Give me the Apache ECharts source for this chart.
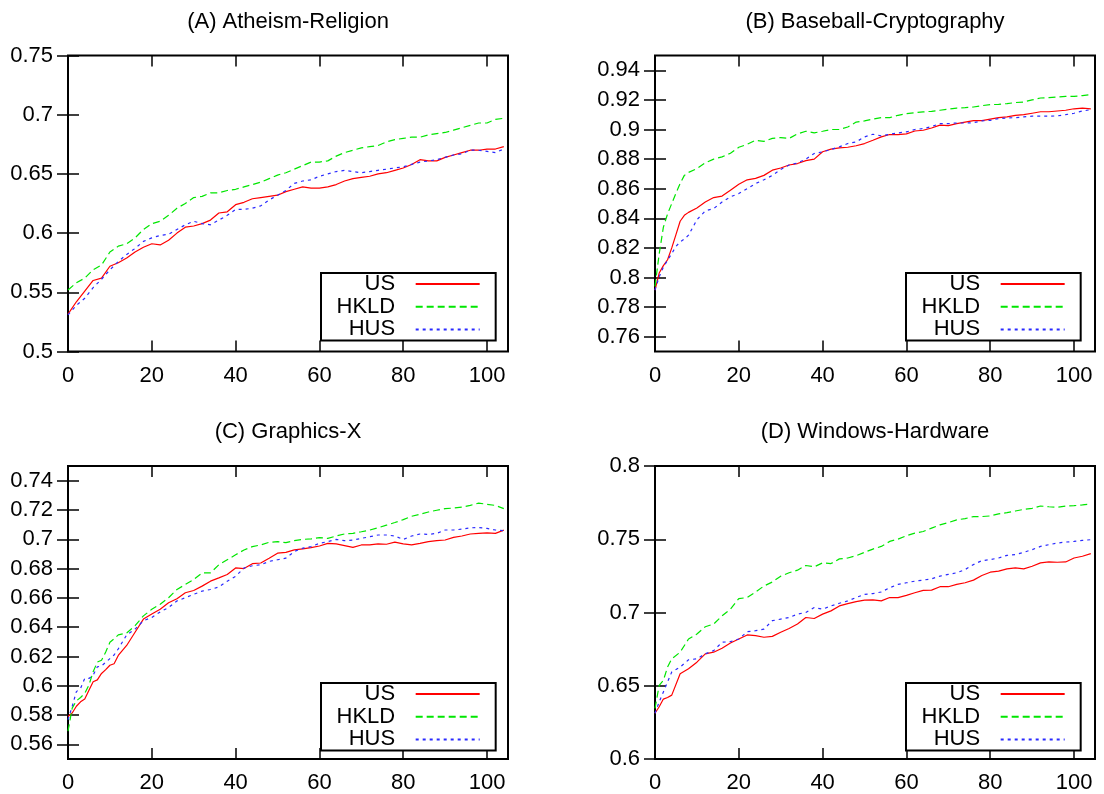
<!DOCTYPE html>
<html><head><meta charset="utf-8">
<script src="https://cdn.jsdelivr.net/npm/echarts@6/dist/echarts.min.js"></script>
<style>html,body{margin:0;padding:0;background:#fff}#c{width:1104px;height:794px}</style>
</head><body><div id="c"></div>
<script>
// ---------- data ----------
const panelTitles = ['(A) Atheism-Religion', '(B) Baseball-Cryptography', '(C) Graphics-X', '(D) Windows-Hardware'];
const seriesNames = ['US', 'HKLD', 'HUS'];
const xTicks = [0, 20, 40, 60, 80, 100];
const xRange = [0, 105];
const yRangeA = [0.5, 0.75];
const yRangeB = [0.75, 0.95];
const yRangeC = [0.55, 0.75];
const yRangeD = [0.6, 0.8];
const yTicksA = [0.5, 0.55, 0.6, 0.65, 0.7, 0.75];
const yTicksB = [0.76, 0.78, 0.8, 0.82, 0.84, 0.86, 0.88, 0.9, 0.92, 0.94];
const yTicksC = [0.56, 0.58, 0.6, 0.62, 0.64, 0.66, 0.68, 0.7, 0.72, 0.74];
const yTicksD = [0.6, 0.65, 0.7, 0.75, 0.8];

// (A) Atheism-Religion
const xA = [0,2,4,6,8,10,12,14,16,18,20,22,24,26,28,30,32,34,36,38,40,42,44,46,48,50,52,54,56,58,60,62,64,66,68,70,72,74,76,78,80,82,84,86,88,90,92,94,96,98,100,102,104];
const usA = [0.5315,0.542,0.551,0.560,0.562,0.572,0.575,0.579,0.584,0.588,0.591,0.590,0.594,0.600,0.605,0.606,0.608,0.611,0.617,0.618,0.624,0.626,0.629,0.630,0.631,0.632,0.635,0.637,0.639,0.638,0.638,0.639,0.641,0.644,0.646,0.647,0.648,0.650,0.651,0.653,0.655,0.658,0.662,0.661,0.661,0.664,0.666,0.668,0.670,0.670,0.671,0.671,0.673];
const hkldA = [0.552,0.558,0.562,0.569,0.573,0.584,0.589,0.591,0.596,0.603,0.608,0.610,0.615,0.621,0.625,0.630,0.631,0.634,0.634,0.636,0.637,0.639,0.641,0.643,0.646,0.649,0.651,0.654,0.657,0.660,0.660,0.661,0.665,0.668,0.670,0.672,0.673,0.674,0.677,0.679,0.680,0.681,0.681,0.683,0.684,0.685,0.687,0.689,0.691,0.693,0.693,0.696,0.697];
const husA = [0.531,0.539,0.545,0.554,0.561,0.569,0.576,0.582,0.587,0.593,0.596,0.598,0.599,0.603,0.607,0.610,0.608,0.607,0.611,0.615,0.620,0.620,0.621,0.623,0.628,0.632,0.636,0.642,0.644,0.645,0.648,0.650,0.652,0.653,0.652,0.651,0.652,0.653,0.654,0.655,0.656,0.658,0.660,0.661,0.662,0.664,0.666,0.667,0.670,0.670,0.669,0.668,0.671];

// (B) Baseball-Cryptography
const xB = [0,1,2,3,4,5,6,7,8,10,12,14,16,18,20,22,24,26,28,30,32,34,36,38,40,42,44,46,48,50,52,54,56,58,60,62,64,66,68,70,72,74,76,78,80,82,84,86,88,90,92,94,96,98,100,102,104];
const usB = [0.7915,0.803,0.808,0.812,0.820,0.829,0.838,0.842,0.844,0.847,0.851,0.854,0.855,0.859,0.863,0.866,0.867,0.869,0.8725,0.874,0.876,0.877,0.879,0.880,0.885,0.8867,0.8876,0.888,0.889,0.8905,0.8927,0.895,0.8966,0.8966,0.897,0.899,0.8995,0.901,0.903,0.9026,0.904,0.905,0.906,0.906,0.907,0.908,0.9085,0.9096,0.910,0.911,0.912,0.912,0.9125,0.913,0.914,0.9144,0.914];
const hkldB = [0.794,0.816,0.834,0.843,0.850,0.857,0.8635,0.869,0.871,0.8736,0.8775,0.880,0.8815,0.884,0.888,0.890,0.8927,0.892,0.894,0.8945,0.894,0.897,0.8988,0.8977,0.8988,0.900,0.900,0.9017,0.905,0.9058,0.907,0.908,0.908,0.9096,0.9107,0.9114,0.9119,0.9123,0.913,0.9137,0.9145,0.9148,0.9152,0.9161,0.9168,0.917,0.9175,0.9182,0.9186,0.920,0.9213,0.9215,0.922,0.9224,0.9224,0.9229,0.9236];
const husB = [0.7915,0.8005,0.807,0.8117,0.8162,0.821,0.824,0.826,0.8286,0.839,0.845,0.8466,0.851,0.8545,0.8567,0.860,0.8635,0.866,0.869,0.873,0.876,0.8774,0.880,0.8838,0.8849,0.8865,0.8883,0.8905,0.8916,0.895,0.8968,0.8957,0.8968,0.8977,0.8984,0.900,0.9006,0.902,0.904,0.904,0.9044,0.9044,0.9046,0.9058,0.9062,0.9074,0.9078,0.908,0.9085,0.909,0.909,0.909,0.9092,0.910,0.911,0.9125,0.9134];

// (C) Graphics-X
const xC = [0,1,2,3,4,5,6,7,8,9,10,11,12,14,16,18,20,22,24,26,28,30,32,34,36,38,40,42,44,46,48,50,52,54,56,58,60,62,64,66,68,70,72,74,76,78,80,82,84,86,88,90,92,94,96,98,100,102,104];
const usC = [0.579,0.5814,0.586,0.589,0.591,0.597,0.6027,0.604,0.6084,0.611,0.614,0.615,0.6207,0.6275,0.6365,0.6455,0.649,0.6522,0.6567,0.6594,0.6635,0.665,0.668,0.6714,0.6736,0.6759,0.6804,0.680,0.6833,0.6838,0.6871,0.6905,0.691,0.6927,0.6934,0.6943,0.6954,0.6972,0.6968,0.6957,0.6945,0.6961,0.6961,0.6968,0.6966,0.698,0.6968,0.6961,0.6972,0.6984,0.699,0.6995,0.7013,0.7022,0.7036,0.704,0.7044,0.704,0.7062];
const hkldC = [0.569,0.5847,0.5897,0.592,0.5948,0.6005,0.6095,0.6162,0.6174,0.623,0.6297,0.632,0.6347,0.636,0.641,0.6477,0.6522,0.6556,0.6601,0.6657,0.6691,0.6725,0.677,0.677,0.6826,0.686,0.6894,0.6927,0.695,0.6961,0.6979,0.6984,0.6977,0.699,0.6999,0.7002,0.7011,0.7006,0.7022,0.7036,0.704,0.7051,0.7063,0.7078,0.7096,0.7114,0.7134,0.7157,0.717,0.7186,0.7198,0.7209,0.7213,0.722,0.7231,0.7247,0.7238,0.7231,0.7209];
const husC = [0.5768,0.5859,0.596,0.5982,0.605,0.605,0.6072,0.6129,0.6135,0.616,0.6185,0.621,0.6252,0.6347,0.6387,0.6444,0.6466,0.6504,0.6534,0.6579,0.6601,0.6624,0.6646,0.6657,0.6675,0.6714,0.6747,0.6804,0.6819,0.6826,0.6849,0.686,0.6871,0.6916,0.6939,0.695,0.6972,0.6984,0.6999,0.699,0.6995,0.7006,0.7017,0.7029,0.7029,0.7022,0.6999,0.7022,0.7036,0.7033,0.704,0.7063,0.7063,0.7069,0.7078,0.708,0.7074,0.7063,0.7058];

// (D) Windows-Hardware
const xD = [0,1,2,3,4,6,8,10,12,14,16,18,20,22,24,26,28,30,32,34,36,38,40,42,44,46,48,50,52,54,56,58,60,62,64,66,68,70,72,74,76,78,80,82,84,86,88,90,92,94,96,98,100,102,104];
const usD = [0.6312,0.6357,0.6409,0.642,0.6436,0.6582,0.6616,0.6661,0.6718,0.6729,0.6756,0.6792,0.6819,0.6847,0.6842,0.6831,0.6837,0.6865,0.6891,0.6921,0.6966,0.6959,0.6989,0.7011,0.7045,0.7061,0.7074,0.7084,0.7086,0.7079,0.7102,0.7102,0.7117,0.7135,0.7151,0.7153,0.7176,0.7176,0.7192,0.7203,0.7221,0.7253,0.7275,0.7282,0.7298,0.7305,0.7298,0.7316,0.7339,0.7345,0.7343,0.7345,0.7372,0.7384,0.7402];
const hkldD = [0.6345,0.6503,0.6537,0.6628,0.6684,0.6729,0.6819,0.6853,0.6903,0.6921,0.6977,0.7023,0.7095,0.7102,0.714,0.7181,0.7208,0.7248,0.7271,0.7289,0.7321,0.7312,0.7339,0.7334,0.7366,0.7372,0.7388,0.7411,0.7433,0.7451,0.7485,0.7501,0.7524,0.7542,0.7553,0.7576,0.7598,0.7614,0.7632,0.7641,0.7655,0.7655,0.7659,0.7673,0.7682,0.7693,0.7704,0.7711,0.7727,0.7722,0.7718,0.7727,0.7729,0.7734,0.774];
const husD = [0.6312,0.639,0.6458,0.6526,0.6594,0.6628,0.6677,0.6684,0.6718,0.674,0.6797,0.6801,0.6819,0.6869,0.6876,0.6887,0.6944,0.6955,0.6966,0.6989,0.7,0.7034,0.7023,0.7045,0.7063,0.7079,0.7102,0.7124,0.7129,0.714,0.7169,0.7192,0.7203,0.7214,0.7221,0.723,0.7248,0.726,0.7271,0.7293,0.7327,0.7354,0.7361,0.7372,0.739,0.7395,0.7411,0.7429,0.7451,0.7463,0.7474,0.7481,0.7485,0.7492,0.7497];

// ---------- layout / style ----------
const FONT = 'Liberation Sans';
const FS = 22;
const grids = [
  {left: 68, top: 55.5, width: 440, height: 296},
  {left: 655, top: 55.5, width: 440, height: 296},
  {left: 68, top: 466, width: 440, height: 295},
  {left: 655, top: 466, width: 440, height: 295}
];
const legendPos = [
  {left: 321, top: 273}, {left: 906, top: 273}, {left: 321, top: 683}, {left: 906, top: 683}
];
const titlePos = [[288, 22], [875, 22], [288, 432], [875, 432]];
const styles = [
  {color: '#ff0000', type: 'solid'},
  {color: '#00e600', type: [7, 4]},
  {color: '#2a2aff', type: [3, 4]}
];

const panels = [
  {x: xA, ys: [usA, hkldA, husA], yr: yRangeA, yt: yTicksA},
  {x: xB, ys: [usB, hkldB, husB], yr: yRangeB, yt: yTicksB},
  {x: xC, ys: [usC, hkldC, husC], yr: yRangeC, yt: yTicksC},
  {x: xD, ys: [usD, hkldD, husD], yr: yRangeD, yt: yTicksD}
];

const fmt = v => String(parseFloat(Number(v).toFixed(4)));
const tickStyle = {color: '#000', width: 1.5};

const option = {
  backgroundColor: '#fff',
  animation: false,
  textStyle: {fontFamily: FONT},
  grid: grids.map(g => Object.assign({show: true, borderColor: '#000', borderWidth: 2, backgroundColor: 'transparent'}, g)),
  xAxis: [], yAxis: [], series: [], legend: [],
  graphic: panelTitles.map((t, i) => ({
    type: 'text', x: titlePos[i][0], y: titlePos[i][1],
    style: {text: t, fill: '#000', font: FS + 'px "' + FONT + '"', align: 'center', verticalAlign: 'middle'}
  }))
};

panels.forEach((p, gi) => {
  ['bottom', 'top'].forEach(pos => option.xAxis.push({
    type: 'value', gridIndex: gi, position: pos, min: xRange[0], max: xRange[1],
    axisLine: {show: false}, splitLine: {show: false},
    axisTick: {show: true, inside: true, length: 11, lineStyle: tickStyle, customValues: xTicks},
    axisLabel: {show: pos === 'bottom', customValues: xTicks, margin: 13, fontSize: FS, color: '#000', fontFamily: FONT, formatter: fmt}
  }));
  ['left', 'right'].forEach(pos => option.yAxis.push({
    type: 'value', gridIndex: gi, position: pos, min: p.yr[0], max: p.yr[1],
    axisLine: {show: false}, splitLine: {show: false},
    axisTick: {show: true, inside: true, length: 11, lineStyle: tickStyle, customValues: p.yt},
    axisLabel: {show: pos === 'left', customValues: p.yt, margin: 15, fontSize: FS, color: '#000', fontFamily: FONT, formatter: fmt}
  }));
  seriesNames.forEach((name, si) => {
    option.series.push({
      type: 'line', name: name, xAxisIndex: gi * 2, yAxisIndex: gi * 2,
      data: p.x.map((xv, k) => [xv, p.ys[si][k]]),
      symbol: 'none', showSymbol: false, smooth: false,
      lineStyle: {color: styles[si].color, width: 1.2, type: styles[si].type},
      itemStyle: {color: styles[si].color},
      z: 3
    });
  });
  option.legend.push({
    orient: 'vertical', left: legendPos[gi].left, top: legendPos[gi].top,
    align: 'right', data: seriesNames, selectedMode: false,
    itemWidth: 64, itemHeight: 12, itemGap: 0.7,
    itemStyle: {opacity: 0},
    textStyle: {fontSize: FS, color: '#000', fontFamily: FONT, padding: [0, 15.5, 0, 0]},
    backgroundColor: '#fff', borderColor: '#000', borderWidth: 2, borderRadius: 0,
    padding: [0, 15, 0, 15.5], z: 5
  });
});

const chart = echarts.init(document.getElementById('c'), null, {renderer: 'canvas'});
chart.setOption(option);
</script></body></html>
